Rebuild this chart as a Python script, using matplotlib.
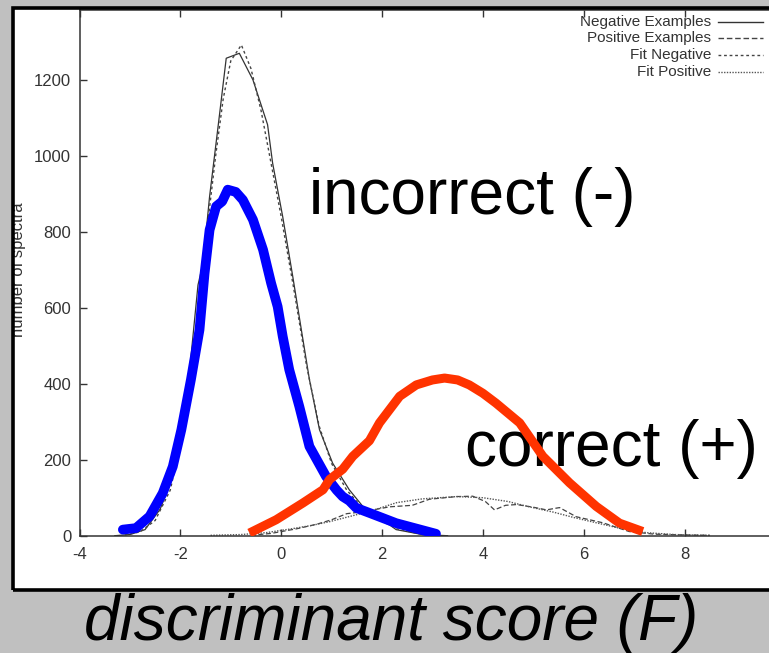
import matplotlib
matplotlib.use('Agg')
import matplotlib.pyplot as plt
from matplotlib.patches import Rectangle
from matplotlib.lines import Line2D

plt.rcParams['font.family'] = ['Liberation Sans', 'DejaVu Sans']
plt.rcParams['axes.unicode_minus'] = False

# gnuplot curves
neg_x = [-3.3, -3.0, -2.7, -2.4, -2.12, -1.85, -1.65, -1.55, -1.42, -1.22, -1.09, -0.83, -0.56,
         -0.27, -0.17, 0.03, 0.23, 0.40, 0.56, 0.76, 1.02, 1.35, 1.62, 1.82, 2.28, 2.8, 3.3]
neg_y = [0, 3, 16, 70, 166, 390, 660, 718, 893, 1112, 1257, 1270, 1200,
         1082, 981, 840, 682, 542, 411, 279, 191, 121, 77, 60, 16, 3, 0]

fitneg_x = [-3.1, -2.8, -2.5, -2.2, -1.95, -1.75, -1.6, -1.45, -1.3, -1.15, -1.0, -0.79, -0.6,
            -0.4, -0.2, 0.0, 0.25, 0.5, 0.75, 1.0, 1.3, 1.6, 1.9, 2.3, 2.7, 3.1]
fitneg_y = [2, 10, 40, 120, 270, 450, 640, 830, 1000, 1150, 1250, 1292, 1230,
            1120, 980, 840, 650, 450, 290, 190, 120, 75, 45, 18, 6, 2]

pos_x = [-0.6, -0.2, 0.3, 0.7, 1.0, 1.3, 1.62, 2.15, 2.6, 2.94, 3.48, 3.8, 4.05, 4.23, 4.45,
         4.67, 5.0, 5.26, 5.52, 5.85, 6.38, 6.9, 7.4, 8.0, 8.5]
pos_y = [1, 6, 18, 30, 42, 58, 63, 76, 80, 96, 103, 104, 90, 68, 80,
         82, 75, 68, 74, 50, 34, 11, 4, 2, 1]

fitpos_x = [-1.4, -0.8, -0.3, 0.2, 0.6, 0.96, 1.4, 1.8, 2.29, 2.8, 3.48, 4.0, 4.5, 4.92,
            5.4, 5.8, 6.25, 6.7, 7.24, 7.8, 8.5]
fitpos_y = [1, 3, 8, 18, 27, 37, 52, 66, 87, 97, 103, 100, 90, 76,
            62, 48, 34, 20, 8, 3, 1]

# hand drawn overlays
blue_x = [-3.14, -2.88, -2.61, -2.35, -2.15, -1.98, -1.79, -1.62, -1.52, -1.42, -1.29, -1.17,
          -1.06, -0.9, -0.76, -0.56, -0.36, -0.2, -0.07, 0.03, 0.16, 0.36, 0.56, 0.89, 1.1,
          1.22, 1.35, 1.49, 1.75, 2.28, 3.07]
blue_y = [16, 20, 51, 112, 182, 279, 411, 542, 690, 805, 867, 880,
          911, 905, 884, 832, 753, 665, 603, 525, 437, 340, 235, 156, 120,
          103, 92, 73, 60, 33, 5]

red_x = [-0.63, -0.10, 0.43, 0.83, 0.96, 1.22, 1.42, 1.75, 1.95, 2.35, 2.68, 3.0, 3.24, 3.5,
         3.73, 4.0, 4.26, 4.73, 5.19, 5.72, 6.25, 6.71, 7.17]
red_y = [7, 42, 86, 121, 148, 175, 209, 250, 297, 367, 397, 410, 415, 410,
         397, 375, 349, 297, 209, 139, 77, 33, 11]

legend_labels = ['Negative Examples', 'Positive Examples', 'Fit Negative', 'Fit Positive']

W, H = 769, 653
def fx(px):
    return px / W
def fy(py):
    return 1 - py / H

fig = plt.figure(figsize=(W / 100, H / 100), dpi=100, facecolor='#c0c0c0')

# white panel (screenshot of gnuplot output)
fig.add_artist(Rectangle((fx(13.3), fy(589.5)), 1, (589.5 - 8) / H, transform=fig.transFigure,
                         facecolor='white', edgecolor='none', zorder=-5))

ax = fig.add_axes([fx(79.5), fy(535.7), (785.4 - 79.5) / W, (535.7 - 10) / H])
ax.patch.set_visible(False)
ax.set_xlim(-4, 10)
ax.set_ylim(0, 1384)
ax.set_xticks(range(-4, 9, 2))
ax.set_yticks(range(0, 1201, 200))
for s in ax.spines.values():
    s.set_color('#333333')
    s.set_linewidth(1.1)
ax.tick_params(direction='in', length=5, width=1, colors='#333333', labelsize=12,
               top=True, right=True)
ax.tick_params(axis='x', pad=8)
ax.tick_params(axis='y', pad=6)

ax.plot(neg_x, neg_y, color='#333333', lw=0.9, ls='-')
ax.plot(pos_x, pos_y, color='#444444', lw=0.9, ls=(0, (4, 2)))
ax.plot(fitneg_x, fitneg_y, color='#444444', lw=1.0, ls=(0, (2, 2)))
ax.plot(fitpos_x, fitpos_y, color='#555555', lw=1.0, ls=(0, (1, 1)))

ax.text(0.56, 847, 'incorrect (-)', fontsize=46, color='black', va='baseline', ha='left', zorder=4)
ax.text(3.64, 184, 'correct (+)', fontsize=46, color='black', va='baseline', ha='left', zorder=4)

ax.plot(blue_x, blue_y, color='#0000ff', lw=7, solid_capstyle='round', solid_joinstyle='round', zorder=5)
ax.plot(red_x, red_y, color='#ff3300', lw=6.5, solid_capstyle='butt', solid_joinstyle='round', zorder=5)

# legend, gnuplot style (text right aligned, sample on the right)
styles = [('-', '#333333'), ((0, (4, 2)), '#444444'), ((0, (2, 2)), '#444444'), ((0, (1, 1)), '#555555')]
rows = [21.7, 38.3, 55, 71.7]
for lab, (ls, c), r in zip(legend_labels, styles, rows):
    fig.text(fx(711), fy(r), lab, fontsize=11, color='#333333', ha='right', va='center')
    fig.add_artist(Line2D([fx(718), fx(763)], [fy(r), fy(r)], transform=fig.transFigure,
                          color=c, lw=1.0, ls=ls))

# y label, cut off by the panel border
fig.text(fx(23), fy(270), 'number of spectra', fontsize=12, color='#333333', rotation=90,
         rotation_mode='anchor', ha='center', va='baseline', zorder=1)

fig.add_artist(Rectangle((0, 0), fx(13.3), 1, transform=fig.transFigure,
                         facecolor='#c0c0c0', edgecolor='none', zorder=5))
fig.add_artist(Rectangle((fx(13.3), fy(589.5)), 1, (589.5 - 8) / H, transform=fig.transFigure,
                         facecolor='none', edgecolor='black', lw=2.6, zorder=6))

fig.text(fx(391), fy(640), 'discriminant score (F)', fontsize=46, style='italic',
         color='black', ha='center', va='baseline', zorder=7)

fig.savefig('out.png', dpi=100, facecolor=fig.get_facecolor())
